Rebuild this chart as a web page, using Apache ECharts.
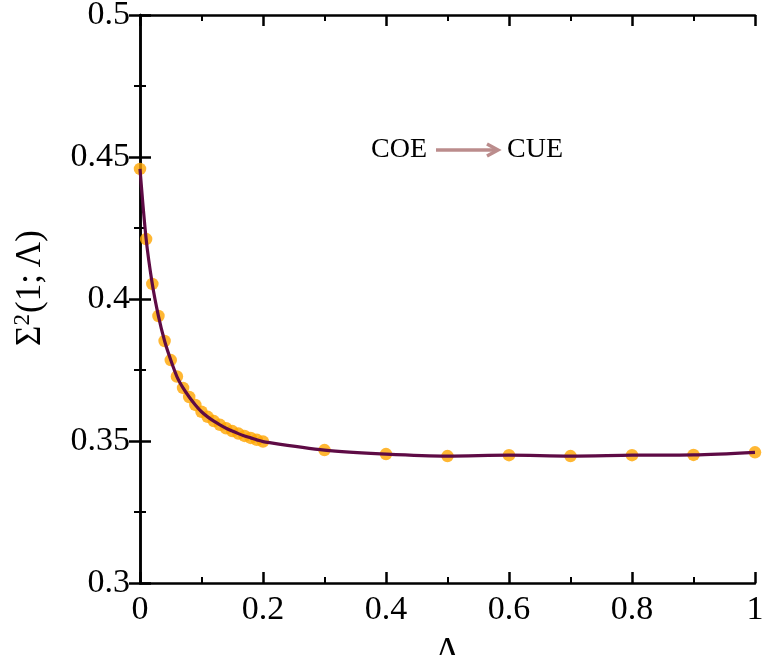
<!DOCTYPE html>
<html>
<head>
<meta charset="utf-8">
<script src="https://cdn.jsdelivr.net/npm/echarts@6/dist/echarts.min.js"></script>
<style>
  html, body { margin: 0; padding: 0; background: #fff; overflow: hidden; }
  #chart { width: 763px; height: 655px; }
</style>
</head>
<body>
<div id="chart"></div>
<script>
// Λ values and Σ²(1;Λ)
var lambdaVals = [0, 0.01, 0.02, 0.03, 0.04, 0.05, 0.06, 0.07, 0.08, 0.09, 0.10,
  0.11, 0.12, 0.13, 0.14, 0.15, 0.16, 0.17, 0.18, 0.19, 0.20,
  0.3, 0.4, 0.5, 0.6, 0.7, 0.8, 0.9, 1.0];
var sigmaVals = [0.4458, 0.4211, 0.4053, 0.3940, 0.3852, 0.3785, 0.3727, 0.3687, 0.3655, 0.3627, 0.3603,
  0.3585, 0.3570, 0.3557, 0.3545, 0.3535, 0.3526, 0.3518, 0.3511, 0.3504, 0.3498,
  0.3468, 0.3454, 0.3447, 0.3450, 0.3447, 0.3450, 0.3451, 0.3460];

var xTicks = [0, 0.2, 0.4, 0.6, 0.8, 1];
var yTicks = [0.3, 0.35, 0.4, 0.45, 0.5];

var pts = lambdaVals.map(function (x, i) { return [x, sigmaVals[i]]; });

var font = 'Liberation Serif';
var chart = echarts.init(document.getElementById('chart'));

var axisLine = { show: true, lineStyle: { color: '#000', width: 2.5 } };
var tickStyle = { show: true, inside: true, length: 11, lineStyle: { color: '#000', width: 2.5 } };
var minorStyle = { show: true, splitNumber: 2, length: 6, lineStyle: { color: '#000', width: 2 } };

chart.setOption({
  animation: false,
  backgroundColor: '#fff',
  grid: { left: 140, right: 8, top: 15, bottom: 72, containLabel: false, outerBoundsMode: 'none' },
  xAxis: [{
    type: 'value', min: 0, max: 1, interval: 0.2,
    position: 'bottom',
    axisLine: axisLine, axisTick: tickStyle, minorTick: minorStyle,
    splitLine: { show: false },
    axisLabel: {
      color: '#000', fontFamily: font, fontSize: 34, margin: 10,
      formatter: function (v) { return String(+v.toFixed(1)); }
    },
    name: 'Λ', nameLocation: 'middle', nameGap: 52,
    nameTextStyle: { color: '#000', fontFamily: font, fontSize: 36 }
  }, {
    type: 'value', min: 0, max: 1, interval: 0.2,
    position: 'top',
    axisLine: axisLine, axisTick: tickStyle, minorTick: minorStyle,
    splitLine: { show: false }, axisLabel: { show: false }
  }],
  yAxis: [{
    type: 'value', min: 0.3, max: 0.5, interval: 0.05,
    position: 'left',
    axisLine: axisLine, axisTick: tickStyle, minorTick: minorStyle,
    splitLine: { show: false },
    axisLabel: {
      color: '#000', fontFamily: font, fontSize: 34, margin: 10,
      formatter: function (v) { return String(+v.toFixed(2)); }
    },
    name: '{a|Σ}{b|2}{a|(1;\u2009Λ)}', nameLocation: 'middle', nameGap: 90, nameRotate: 90,
    nameTextStyle: {
      padding: [0, 0, 0, 22],
      rich: {
        a: { color: '#000', fontFamily: font, fontSize: 35 },
        b: { color: '#000', fontFamily: font, fontSize: 23, verticalAlign: 'top', padding: [0, 1, 16, 0] }
      }
    }
  }, {
    type: 'value', min: 0.3, max: 0.5, interval: 0.05,
    position: 'right',
    axisLine: axisLine, axisTick: tickStyle, minorTick: minorStyle,
    splitLine: { show: false }, axisLabel: { show: false }
  }],
  graphic: [
    { type: 'text', x: 371, y: 150, style: { text: 'COE', fill: '#000', font: '28px "Liberation Serif"', verticalAlign: 'middle' } },
    { type: 'text', x: 507, y: 150, style: { text: 'CUE', fill: '#000', font: '28px "Liberation Serif"', verticalAlign: 'middle' } },
    { type: 'line', shape: { x1: 436, y1: 150, x2: 496, y2: 150 }, style: { stroke: '#bb8c8c', lineWidth: 3.5 } },
    { type: 'polyline', shape: { points: [[487, 144], [498, 150], [487, 156]] }, style: { stroke: '#bb8c8c', lineWidth: 3.5, fill: null } }
  ],
  series: [{
    type: 'scatter', data: pts, symbol: 'circle', symbolSize: 12.5,
    itemStyle: { color: '#ffa500' }, z: 2
  }, {
    type: 'line', data: pts, smooth: 0.3, showSymbol: false,
    lineStyle: { color: '#5e0b45', width: 3.2 }, z: 3
  }]
});
</script>
</body>
</html>
